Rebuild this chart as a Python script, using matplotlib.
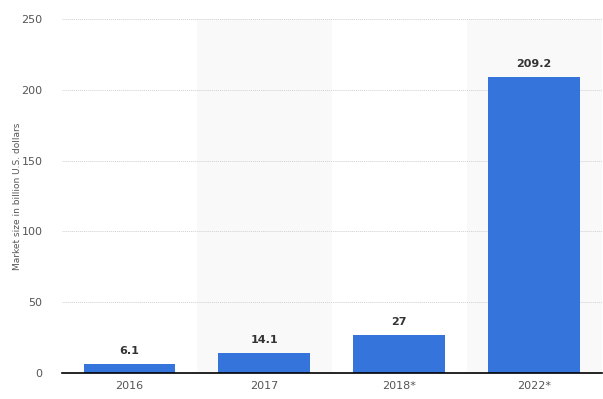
import matplotlib
matplotlib.use("Agg")
import matplotlib.pyplot as plt

years = ["2016", "2017", "2018*", "2022*"]
market_size = [6.1, 14.1, 27, 209.2]
value_labels = ["6.1", "14.1", "27", "209.2"]
y_ticks = [0, 50, 100, 150, 200, 250]

fig = plt.figure(figsize=(6.03, 3.99), dpi=100)
ax = fig.add_axes([0.1028, 0.065, 0.895, 0.887])

x = list(range(len(years)))

# alternating background bands
for i in x:
    if i % 2 == 1:
        ax.axvspan(i - 0.5, i + 0.5, color="#f9f9f9", zorder=0, lw=0)

ax.bar(x, market_size, width=0.68, color="#3575db", zorder=3)

for xi, v, lab in zip(x, market_size, value_labels):
    ax.annotate(lab, (xi, v), xytext=(0, 6), textcoords="offset points",
                ha="center", va="bottom", fontsize=8, fontweight="bold",
                color="#333333")

ax.set_xlim(-0.5, len(years) - 0.5)
ax.set_ylim(0, 250)
ax.set_yticks(y_ticks)
ax.set_xticks(x)
ax.set_xticklabels(years)
ax.tick_params(axis="both", length=0, labelsize=8, colors="#555555")
ax.tick_params(axis="y", pad=14)
ax.tick_params(axis="x", pad=6)

ax.grid(axis="y", color="#d0d0d0", linestyle=(0, (1, 1)), linewidth=0.7, zorder=1)
ax.set_axisbelow(True)

for s in ["top", "right", "left"]:
    ax.spines[s].set_visible(False)
ax.spines["bottom"].set_color("#000000")
ax.spines["bottom"].set_linewidth(1.2)
ax.spines["bottom"].set_zorder(4)

ax.set_ylabel("Market size in billion U.S. dollars", fontsize=6.5, color="#555555")
ax.yaxis.set_label_coords(-0.075, 0.5)

fig.savefig("out.png", dpi=100)
